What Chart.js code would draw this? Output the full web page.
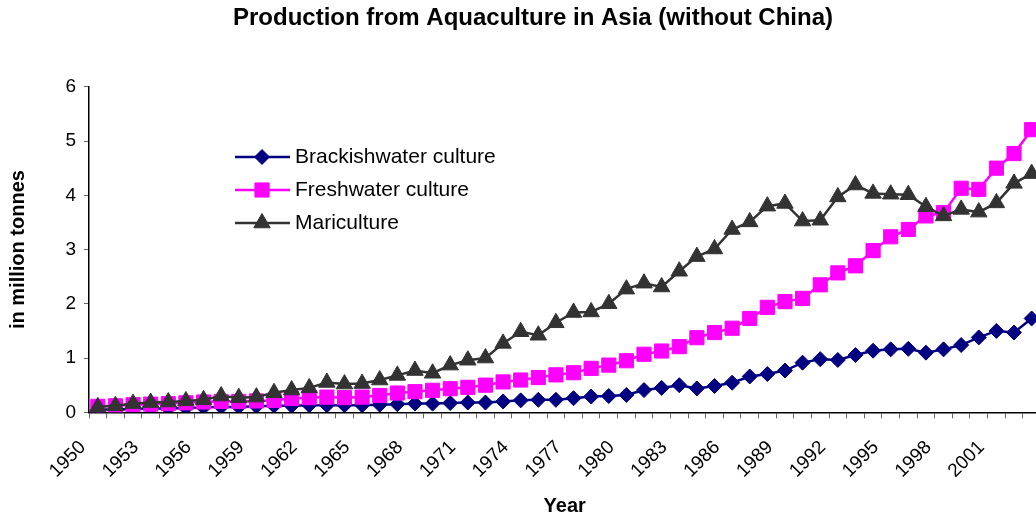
<!DOCTYPE html>
<html><head><meta charset="utf-8">
<script src="https://cdn.jsdelivr.net/npm/chart.js@4.4.1/dist/chart.umd.min.js"></script>
<style>
html,body{margin:0;padding:0;overflow:hidden;background:#fff;width:1036px;height:518px}
#wrap{width:1066px;height:518px}
</style></head><body>
<div id="wrap"><canvas id="c" width="1066" height="518"></canvas></div>
<script>
const years = ['1950','1951','1952','1953','1954','1955','1956','1957','1958','1959',
  '1960','1961','1962','1963','1964','1965','1966','1967','1968','1969',
  '1970','1971','1972','1973','1974','1975','1976','1977','1978','1979',
  '1980','1981','1982','1983','1984','1985','1986','1987','1988','1989',
  '1990','1991','1992','1993','1994','1995','1996','1997','1998','1999',
  '2000','2001','2002','2003'];
const brackishwater = [0.05,0.05,0.06,0.07,0.07,0.08,0.09,0.10,0.10,0.11,
  0.12,0.12,0.13,0.13,0.13,0.13,0.14,0.15,0.16,0.16,
  0.17,0.18,0.18,0.20,0.22,0.23,0.23,0.26,0.29,0.30,
  0.32,0.41,0.45,0.50,0.44,0.485,0.545,0.66,0.705,0.77,
  0.915,0.98,0.965,1.055,1.135,1.16,1.17,1.10,1.16,1.24,
  1.38,1.50,1.47,1.73];
const freshwater = [0.11,0.12,0.14,0.15,0.16,0.175,0.19,0.20,0.20,0.21,
  0.22,0.255,0.27,0.28,0.27,0.28,0.31,0.355,0.38,0.405,
  0.435,0.46,0.50,0.56,0.595,0.64,0.69,0.73,0.81,0.87,
  0.95,1.07,1.13,1.21,1.375,1.47,1.55,1.73,1.935,2.04,
  2.10,2.35,2.57,2.70,2.98,3.235,3.37,3.62,3.68,4.13,
  4.11,4.50,4.77,5.21];
const mariculture = [0.10,0.12,0.16,0.18,0.19,0.21,0.23,0.30,0.27,0.28,
  0.36,0.41,0.45,0.55,0.52,0.53,0.595,0.68,0.77,0.72,
  0.87,0.96,1.00,1.27,1.485,1.42,1.65,1.84,1.85,2.00,
  2.27,2.38,2.31,2.60,2.87,3.01,3.37,3.51,3.80,3.85,
  3.525,3.54,3.97,4.19,4.035,4.02,4.01,3.79,3.62,3.74,
  3.69,3.86,4.22,4.40];
const seriesNames = ['Brackishwater culture','Freshwater culture','Mariculture'];
const labelEvery = 3;

const FONT = "'Liberation Sans', Arial, sans-serif";
Chart.defaults.font.family = FONT;
Chart.defaults.color = '#000';

const legendPlugin = {
  id: 'insideLegend',
  afterDatasetsDraw(chart) {
    const ctx = chart.ctx;
    const rows = [157, 190, 223];
    chart.data.datasets.forEach((ds, i) => {
      const y = rows[i];
      ctx.save();
      ctx.strokeStyle = ds.borderColor;
      ctx.lineWidth = ds.borderWidth;
      ctx.beginPath(); ctx.moveTo(235, y); ctx.lineTo(290, y); ctx.stroke();
      ctx.fillStyle = ds.pointBackgroundColor;
      ctx.strokeStyle = ds.pointBorderColor;
      ctx.lineWidth = ds.pointBorderWidth;
      Chart.helpers.drawPoint(ctx, {pointStyle: ds.pointStyle, radius: ds.pointRadius, rotation: 0, borderWidth: ds.pointBorderWidth}, 262, y);
      ctx.fillStyle = '#000';
      ctx.font = "21px " + FONT;
      ctx.textBaseline = 'middle';
      ctx.textAlign = 'left';
      ctx.fillText(ds.label, 295, y);
      ctx.restore();
    });
  }
};

new Chart(document.getElementById('c'), {
  type: 'line',
  data: {
    labels: years,
    datasets: [
      {label: seriesNames[0], data: brackishwater, order: 2, borderColor: '#000080', borderWidth: 2.5,
       pointStyle: 'rectRot', pointRadius: 7.5, pointBackgroundColor: '#000080', pointBorderColor: '#000080', pointBorderWidth: 1, tension: 0},
      {label: seriesNames[1], data: freshwater, order: 1, borderColor: '#FF00FF', borderWidth: 2.5,
       pointStyle: 'rect', pointRadius: 10, pointBackgroundColor: '#FF00FF', pointBorderColor: '#FF00FF', pointBorderWidth: 1, tension: 0},
      {label: seriesNames[2], data: mariculture, order: 0, borderColor: '#333333', borderWidth: 2.5,
       pointStyle: 'triangle', pointRadius: 9.5, pointBackgroundColor: '#333333', pointBorderColor: '#333333', pointBorderWidth: 1, tension: 0}
    ]
  },
  options: {
    responsive: false, animation: false, devicePixelRatio: 1,
    layout: {padding: 0},
    plugins: {
      legend: {display: false}, tooltip: {enabled: false},
      title: {display: true, text: 'Production from Aquaculture in Asia (without China)', color: '#000',
        font: {size: 24, weight: 'bold'}, padding: {top: 4, bottom: 54}}
    },
    scales: {
      x: {
        type: 'category', offset: true,
        grid: {offset: true, drawOnChartArea: false, drawTicks: true, tickLength: 6, color: '#666', lineWidth: 1},
        border: {color: '#000', width: 1.5},
        ticks: {autoSkip: false, maxRotation: 45, minRotation: 45, color: '#000', font: {size: 19}, padding: 18, labelOffset: -15,
          callback: (v, i) => (i % labelEvery === 0 ? years[i] : '')},
        title: {display: true, text: 'Year', color: '#000', font: {size: 20, weight: 'bold'}, padding: {top: 0, bottom: 0}},
        afterFit: s => { s.height = 105.7; }
      },
      y: {
        min: 0, max: 6,
        ticks: {stepSize: 1, color: '#000', font: {size: 19}, padding: 8},
        grid: {drawOnChartArea: false, tickLength: 5, color: '#666'},
        border: {color: '#000', width: 1.5},
        title: {display: true, text: 'in million tonnes', color: '#000', font: {size: 20, weight: 'bold'}, padding: {top: 6, bottom: 0}},
        afterFit: s => { s.width = 89; }
      },
      rightSpace: {
        type: 'linear', axis: 'y', position: 'right', display: true,
        grid: {display: false, drawTicks: false}, ticks: {display: false}, border: {display: false},
        afterFit: s => { s.width = 25; }
      }
    }
  },
  plugins: [legendPlugin]
});
</script>
</body></html>
